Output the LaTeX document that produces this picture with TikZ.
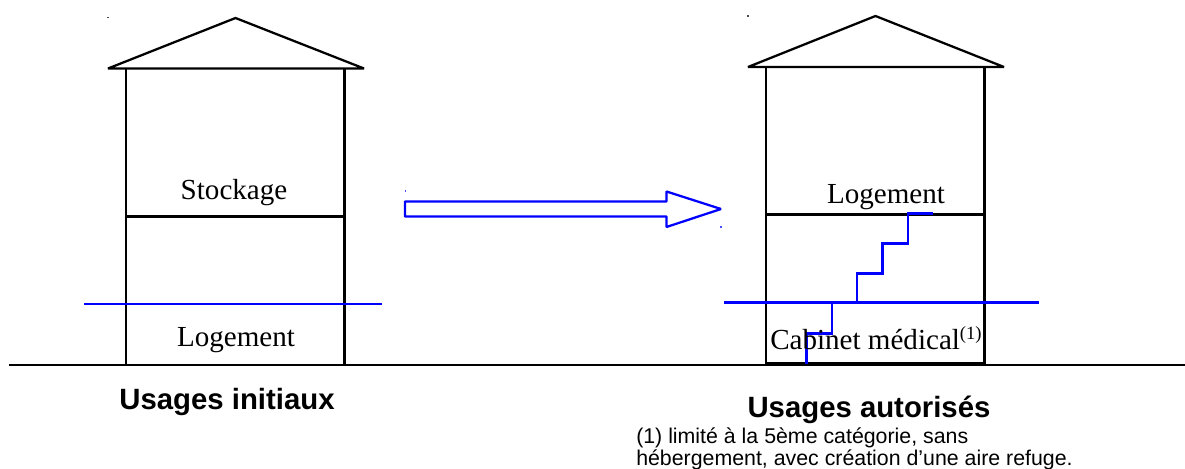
\documentclass[tikz,border=0pt]{standalone}
\usepackage{fontspec}
\setmainfont{Liberation Serif}
\newfontfamily\arialf{Liberation Sans}
\tikzset{
  wall/.style={draw=black,line width=1.7pt,line join=bevel},
  blueline/.style={draw=blue,line width=1.7pt},
  serif/.style={inner sep=0pt,font=\fontsize{21.8}{26}\selectfont,anchor=base},
  heading/.style={inner sep=0pt,font=\arialf\bfseries\fontsize{22}{26}\selectfont,anchor=base},
  note/.style={inner sep=0pt,font=\arialf\fontsize{16}{19}\selectfont,anchor=base west},
  speck/.style={inner sep=0pt,minimum size=0.8pt,fill=#1}
}
\begin{document}
\begin{tikzpicture}[x=0.75pt,y=-0.75pt]
\useasboundingbox (0,0) rectangle (1185,468);
% left house
\coordinate (Lapex) at (235.5,18);
\coordinate (Lel) at (108,68.5);
\coordinate (Ler) at (364,68.5);
\coordinate (Lwl) at (126,68.5);
\coordinate (Lwr) at (344.5,68.5);
\coordinate (Lbl) at (126,364);
\coordinate (Lbr) at (344.5,364);
\coordinate (Lfl) at (126,216.5);
\coordinate (Lfr) at (344.5,216.5);
\draw[wall] (Lel) -- (Lapex) -- (Ler) -- cycle;
\draw[wall] (Lwl) -- (Lbl) (Lwr) -- (Lbr) (Lfl) -- (Lfr);
% right house
\coordinate (Rapex) at (875.5,16);
\coordinate (Rel) at (748,67);
\coordinate (Rer) at (1004,67);
\coordinate (Rwl) at (766,67);
\coordinate (Rwr) at (984.5,67);
\coordinate (Rbl) at (766,364);
\coordinate (Rbr) at (984.5,364);
\coordinate (Rfl) at (766,214.5);
\coordinate (Rfr) at (984.5,214.5);
\draw[wall] (Rel) -- (Rapex) -- (Rer) -- cycle;
\draw[wall] (Rwl) -- (Rbl) (Rwr) -- (Rbr) (Rfl) -- (Rfr);
% ground
\coordinate (G1) at (9,365);
\coordinate (G2) at (1185,365);
\draw[wall] (G1) -- (G2);
\coordinate (Rbase1) at (766,363);
\coordinate (Rbase2) at (984.5,363);
\draw[wall] (Rbase1) -- (Rbase2);
% flood lines
\coordinate (Fl1) at (84,304);
\coordinate (Fl2) at (382,304);
\coordinate (Fr1) at (724,302.5);
\coordinate (Fr2) at (1039,302.5);
\draw[blueline] (Fl1) -- (Fl2);
\draw[blueline] (Fr1) -- (Fr2);
% stairs
\coordinate (S0) at (806.5,364);
\coordinate (S7) at (933,213.5);
\draw[blueline] (S0) |- (832,333.5) |- (857,303) |- (882.5,273.5) |- (908,243.5) |- (S7);
% arrow
\coordinate (A0) at (405,201.5);
\coordinate (A1) at (666.5,201.5);
\coordinate (A2) at (666.5,191.5);
\coordinate (A3) at (721,209);
\coordinate (A4) at (666.5,227);
\coordinate (A5) at (666.5,216.5);
\coordinate (A6) at (405,216.5);
\draw[blueline,line join=bevel] (A0) -- (A1) -- (A2) -- (A3) -- (A4) -- (A5) -- (A6) -- cycle;
% specks
\node[speck=black!70] (d1) at (108,17.5) {};
\node[speck=black!70] (d2) at (748,16) {};
\node[speck=blue!70] (d3) at (405.5,191) {};
\node[speck=blue!70] (d4) at (721,227) {};
% labels
\node[serif] (stock) at (234,199) {Stockage};
\node[serif] (log1) at (236,346) {Logement};
\node[serif] (log2) at (886,203) {Logement};
\node[serif,anchor=base west] (cab) at (770,349.5) {Cabinet médical\textsuperscript{\fontsize{14}{14}\selectfont (1)}};
\node[heading] (h1) at (227,409) {Usages initiaux};
\node[heading] (h2) at (869,417) {Usages autorisés};
\node[note] (n1) at (636,443) {(1) limité à la 5ème catégorie, sans};
\node[note] (n2) at (636,465) {hébergement, avec création d’une aire refuge.};
\end{tikzpicture}
\end{document}
